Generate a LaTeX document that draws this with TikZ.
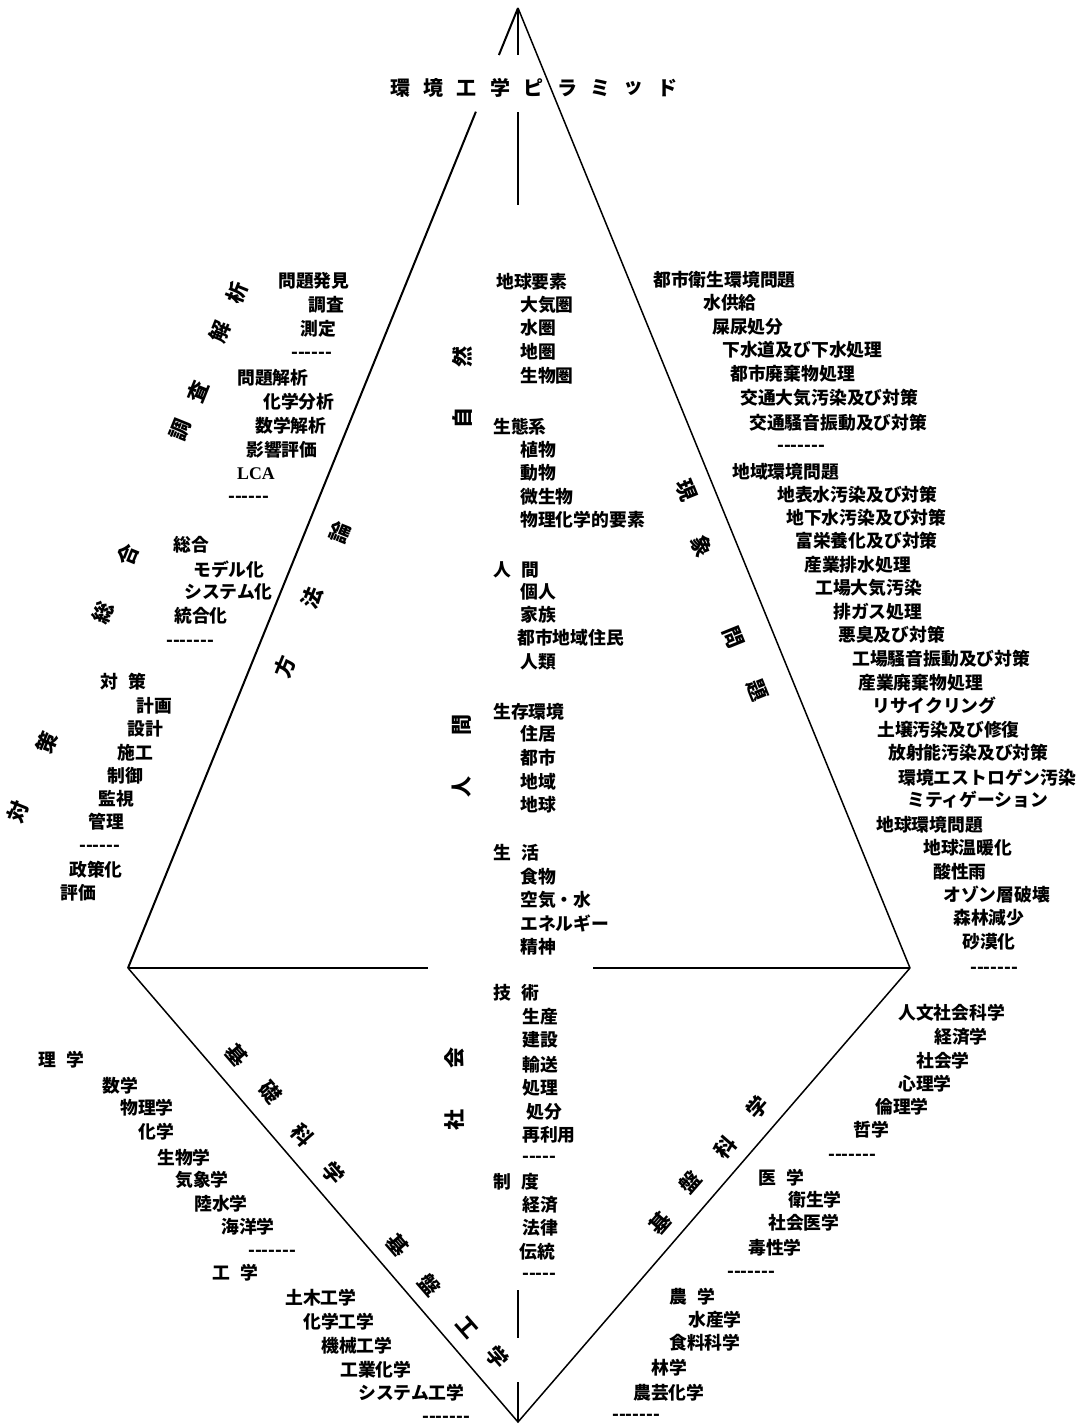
\documentclass[tikz,border=0pt]{standalone}
\usepackage{fontspec}
\newfontfamily\jpfont{Noto Sans CJK JP}
\newfontfamily\lcafont{Liberation Serif}
\usetikzlibrary{calc}
\newcommand{\wgap}{\hspace{0.6em}}
\tikzset{
  item/.style={anchor=west, inner sep=0pt, font=\jpfont\bfseries\fontsize{17.8}{20}\selectfont},
  sidechar/.style={inner sep=0pt, font=\jpfont\bfseries\fontsize{21}{23}\selectfont},
  titlechar/.style={inner sep=0pt, font=\jpfont\bfseries\fontsize{20}{22}\selectfont},
  rim/.style={line width=1.5pt},
}

\begin{document}
\begin{tikzpicture}[x=1pt, y=-1pt]
    \useasboundingbox (0,0) rectangle (1086,1427);

    % Corners of the pyramid
    \coordinate (apex) at (518,8);
    \coordinate (lc) at (128,968);
    \coordinate (rc) at (910,968);
    \coordinate (bot) at (518,1422);
    \coordinate (ax1) at (518,55);
    \coordinate (ax2) at (518,112);
    \coordinate (ax3) at (518,205);
    \coordinate (ax4) at (518,1290);
    \coordinate (ax5) at (518,1338);
    \coordinate (ax6) at (518,1382);
    \coordinate (h1) at (428,968);
    \coordinate (h2) at (593,968);

    % Edges
    \draw[rim, line width=2pt] (apex) -- ($(apex)!0.049!(lc)$);
    \draw[rim, line width=2pt] ($(apex)!0.108!(lc)$) -- (lc);
    \draw[rim] (apex) -- (rc);
    \draw[rim] (lc) -- (bot) -- (rc);
    \draw[rim] (lc) -- (h1);
    \draw[rim] (h2) -- (rc);

    % Axis
    \draw[rim] (apex) -- (ax1);
    \draw[rim] (ax2) -- (ax3);
    \draw[rim] (ax4) -- (ax5);
    \draw[rim] (ax6) -- (bot);

    % Title
    \foreach \c [count=\i] in {環,境,工,学,ピ,ラ,ミ,ッ,ド}
        \node[titlechar] (title\i) at ({400+33.4*(\i-1)},88) {\c};

    % Labels along the edges
    \foreach \x/\y/\c [count=\i] in {180/430/調, 198/392/査, 220/332/解, 237/293/析}
        \node[sidechar, rotate=68] (chosa\i) at (\x,\y) {\c};
    \foreach \x/\y/\c [count=\i] in {103/613/総, 128/555/合}
        \node[sidechar, rotate=68] (sogo\i) at (\x,\y) {\c};
    \foreach \x/\y/\c [count=\i] in {18/812/対, 47/743/策}
        \node[sidechar, rotate=68] (taisaku\i) at (\x,\y) {\c};
    \foreach \x/\y/\c [count=\i] in {285/667/方, 312/598/法, 340/533/論}
        \node[sidechar, rotate=68] (hoho\i) at (\x,\y) {\c};
    \foreach \x/\y/\c [count=\i] in {686/490/現, 702/546/象, 733/637/問, 757/690/題}
        \node[sidechar, rotate=-68] (gensho\i) at (\x,\y) {\c};
    \foreach \x/\y/\c [count=\i] in {237/1055/基, 270/1092/礎, 302/1135/科, 333/1173/学}
        \node[sidechar, rotate=-49] (kisoka\i) at (\x,\y) {\c};
    \foreach \x/\y/\c [count=\i] in {398/1245/基, 430/1285/盤, 467/1327/工, 497/1357/学}
        \node[sidechar, rotate=-49] (kibanko\i) at (\x,\y) {\c};
    \foreach \x/\y/\c [count=\i] in {660/1223/基, 690/1182/盤, 725/1147/科, 757/1107/学}
        \node[sidechar, rotate=49] (kibanka\i) at (\x,\y) {\c};

    % Labels of the centre column
    \foreach \x/\y/\c [count=\i] in {462/418/自, 462/357/然}
        \node[sidechar, rotate=90] (shizen\i) at (\x,\y) {\c};
    \foreach \x/\y/\c [count=\i] in {462/787/人, 462/725/間}
        \node[sidechar, rotate=90] (ningen\i) at (\x,\y) {\c};
    \foreach \x/\y/\c [count=\i] in {455/1120/社, 455/1058/会}
        \node[sidechar, rotate=90] (shakai\i) at (\x,\y) {\c};

    % Method lists (left)
    \foreach \x/\y/\t [count=\i] in {278/281/問題発見, 308/305/調査, 300/329/測定, 291/355/------,
        237/378/問題解析, 263/402/化学分析, 255/426/数学解析, 246/450/影響評価,
        237/474/{\lcafont LCA}, 228/499/------}
        \node[item] (m\i) at (\x,\y) {\t};
    \foreach \x/\y/\t [count=\i] in {173/545/総合, 193/570/モデル化, 184/592/システム化,
        174/616/統合化, 166/643/-------}
        \node[item] (s\i) at (\x,\y) {\t};
    \foreach \x/\y/\t [count=\i] in {100/682/対\wgap 策, 136/706/計画, 127/729/設計, 117/753/施工,
        107/776/制御, 98/799/監視, 88/822/管理, 79/848/------, 69/870/政策化, 60/893/評価}
        \node[item] (p\i) at (\x,\y) {\t};

    % Centre column lists
    \foreach \x/\y/\t [count=\i] in {496/282/地球要素, 520/305/大気圏, 520/328/水圏, 520/352/地圏,
        520/376/生物圏, 493/427/生態系, 520/450/植物, 520/473/動物, 520/497/微生物,
        520/520/物理化学的要素, 493/570/人\wgap 間, 520/592/個人, 520/615/家族,
        517/638/都市地域住民, 520/662/人類}
        \node[item] (n\i) at (\x,\y) {\t};
    \foreach \x/\y/\t [count=\i] in {493/712/生存環境, 520/734/住居, 520/758/都市, 520/782/地域,
        520/805/地球, 493/853/生\wgap 活, 520/877/食物, 520/900/空気・水,
        520/923/エネルギー, 520/947/精神}
        \node[item] (h\i) at (\x,\y) {\t};
    \foreach \x/\y/\t [count=\i] in {493/993/技\wgap 術, 522/1017/生産, 522/1040/建設, 522/1065/輸送,
        522/1088/処理, 526/1112/処分, 522/1135/再利用, 522/1159/-----, 493/1182/制\wgap 度,
        522/1205/経済, 522/1228/法律, 519/1252/伝統, 522/1276/-----}
        \node[item] (g\i) at (\x,\y) {\t};

    % Problem lists (right)
    \foreach \x/\y/\t [count=\i] in {653/280/都市衛生環境問題, 703/303/水供給, 712/327/屎尿処分,
        722/350/下水道及び下水処理, 730/374/都市廃棄物処理, 740/398/交通大気汚染及び対策,
        749/423/交通騒音振動及び対策, 777/448/-------}
        \node[item] (u\i) at (\x,\y) {\t};
    \foreach \x/\y/\t [count=\i] in {732/472/地域環境問題, 777/495/地表水汚染及び対策,
        786/518/地下水汚染及び対策, 795/541/富栄養化及び対策, 804/565/産業排水処理,
        815/588/工場大気汚染, 833/612/排ガス処理, 838/635/悪臭及び対策,
        852/659/工場騒音振動及び対策, 858/683/産業廃棄物処理, 872/706/リサイクリング,
        877/730/土壌汚染及び修復, 888/753/放射能汚染及び対策, 898/778/環境エストロゲン汚染,
        907/800/ミティゲーション}
        \node[item] (r\i) at (\x,\y) {\t};
    \foreach \x/\y/\t [count=\i] in {876/825/地球環境問題, 923/848/地球温暖化, 933/872/酸性雨,
        943/895/オゾン層破壊, 953/918/森林減少, 962/942/砂漠化, 970/970/-------}
        \node[item] (e\i) at (\x,\y) {\t};

    % Basic science lists (lower left)
    \foreach \x/\y/\t [count=\i] in {38/1060/理\wgap 学, 102/1086/数学, 120/1108/物理学, 138/1132/化学,
        157/1158/生物学, 175/1180/気象学, 194/1204/陸水学, 221/1227/海洋学, 248/1253/-------}
        \node[item] (b\i) at (\x,\y) {\t};
    \foreach \x/\y/\t [count=\i] in {212/1273/工\wgap 学, 285/1298/土木工学, 303/1322/化学工学,
        321/1346/機械工学, 340/1370/工業化学, 358/1393/システム工学, 422/1419/-------}
        \node[item] (k\i) at (\x,\y) {\t};

    % Base science lists (lower right)
    \foreach \x/\y/\t [count=\i] in {898/1013/人文社会科学, 934/1037/経済学, 916/1061/社会学,
        898/1084/心理学, 875/1107/倫理学, 853/1130/哲学, 828/1157/-------}
        \node[item] (j\i) at (\x,\y) {\t};
    \foreach \x/\y/\t [count=\i] in {758/1178/医\wgap 学, 788/1200/衛生学, 768/1223/社会医学,
        748/1248/毒性学, 727/1274/-------}
        \node[item] (i\i) at (\x,\y) {\t};
    \foreach \x/\y/\t [count=\i] in {669/1297/農\wgap 学, 688/1320/水産学, 669/1343/食料科学,
        651/1368/林学, 633/1393/農芸化学, 612/1417/-------}
        \node[item] (a\i) at (\x,\y) {\t};
\end{tikzpicture}
\end{document}
